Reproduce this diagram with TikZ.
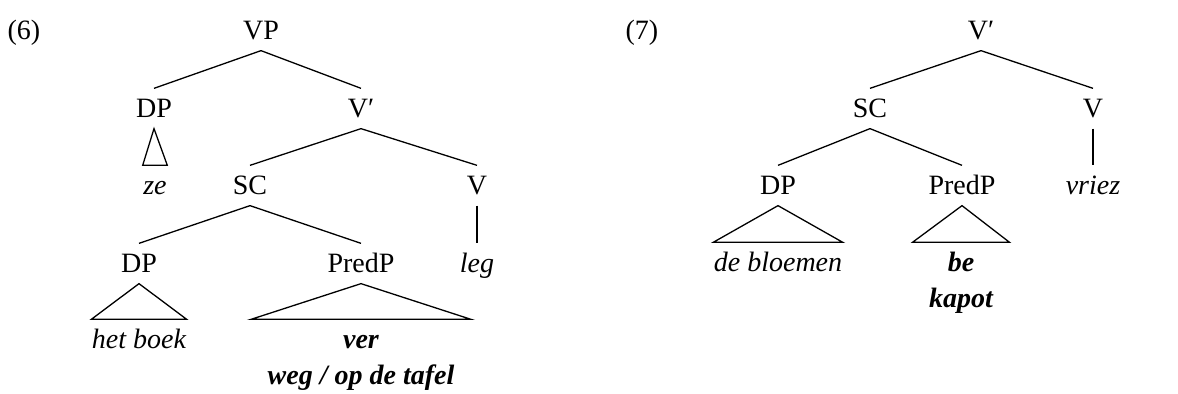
\documentclass[tikz,border=0pt]{standalone}
\usepackage{fontspec}
\setmainfont{Liberation Serif}
\usetikzlibrary{calc}
\newcommand\treesize{\fontsize{14}{17}\selectfont}

\begin{document}
\begin{tikzpicture}[
    x=0.5pt, y=-0.5pt,
    line width=0.65pt,
    font=\treesize,
    cat/.style={anchor=base, inner xsep=0pt, inner ysep=5pt, text height=9.5pt, text depth=0pt},
    leaf/.style={cat, font=\treesize\itshape},
    pred/.style={cat, font=\treesize\bfseries\itshape},
    exnum/.style={anchor=base west, inner sep=0pt}
]
  \useasboundingbox (0,0) rectangle (1178,394);

  % example (6)
  \node[exnum] (ex6) at (7,40) {(6)};
  \node[cat] (vp) at (261,40) {VP};
  \node[cat] (dpa) at (154,118) {DP};
  \node[cat] (vbar) at (361,118) {V′};
  \node[leaf] (ze) at (155,195) {ze};
  \node[cat] (sc) at (250,195) {SC};
  \node[cat] (va) at (477,195) {V};
  \node[cat] (dpb) at (139,273) {DP};
  \node[cat] (predp) at (361,273) {PredP};
  \node[leaf] (leg) at (477,273) {leg};
  \node[leaf] (hetboek) at (139,349) {het boek};
  \node[pred] (ver) at (361,349) {ver};
  \node[pred] (weg) at (361,385) {weg / op de tafel};

  \draw (vp.south) -- (dpa.north);
  \draw (vp.south) -- (vbar.north);
  \draw (dpa.south) -- (ze.north west) -- (ze.north east) -- cycle;
  \draw (vbar.south) -- (sc.north);
  \draw (vbar.south) -- (va.north);
  \draw (sc.south) -- (dpb.north);
  \draw (sc.south) -- (predp.north);
  \draw (va.south) -- (leg.north);
  \draw (dpb.south) -- (hetboek.north west) -- (hetboek.north east) -- cycle;
  \draw (predp.south) -- ($(ver.north -| weg.west)+(-16,0)$)
    -- ($(ver.north -| weg.east)+(16,0)$) -- cycle;

  % example (7)
  \node[exnum] (ex7) at (625,40) {(7)};
  \node[cat] (vbarb) at (981,40) {V′};
  \node[cat] (scb) at (870,118) {SC};
  \node[cat] (vb) at (1093,118) {V};
  \node[cat] (dpc) at (778,195) {DP};
  \node[cat] (predpb) at (962,195) {PredP};
  \node[leaf] (vriez) at (1093,195) {vriez};
  \node[leaf] (bloemen) at (778,272) {de bloemen};
  \node[pred] (be) at (961,272) {be};
  \node[pred] (kapot) at (961,308) {kapot};

  \draw (vbarb.south) -- (scb.north);
  \draw (vbarb.south) -- (vb.north);
  \draw (scb.south) -- (dpc.north);
  \draw (scb.south) -- (predpb.north);
  \draw (vb.south) -- (vriez.north);
  \draw (dpc.south) -- (bloemen.north west) -- (bloemen.north east) -- cycle;
  \draw (predpb.south) -- ($(be.north -| kapot.west)+(-16,0)$)
    -- ($(be.north -| kapot.east)+(16,0)$) -- cycle;
\end{tikzpicture}
\end{document}
